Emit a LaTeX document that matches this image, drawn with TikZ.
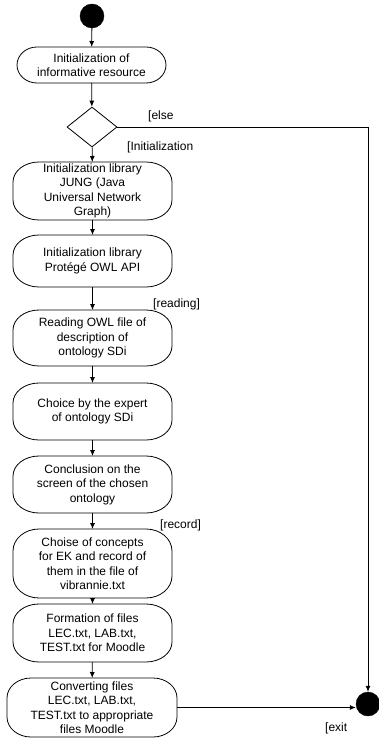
\documentclass[tikz,border=0pt]{standalone}
\usepackage{fontspec}
\setmainfont{Liberation Sans}
\usetikzlibrary{shapes.geometric,arrows.meta}
\tikzset{
  actbox/.style={align=center, minimum width=159pt, inner sep=1pt, outer sep=0pt,
    font=\fontsize{12}{14.5}\selectfont},
  outline/.style={line width=0.8pt},
  dot/.style={circle, fill=black, draw=black, minimum size=24pt, inner sep=0pt},
  choice/.style={draw, diamond, line width=0.8pt, minimum width=50pt, minimum height=40pt, inner sep=0pt},
  guard/.style={anchor=west, inner sep=0pt, font=\fontsize{12}{14.5}\selectfont},
  flow/.style={line width=0.8pt, -{Latex[length=6pt,width=5pt]}}
}
\newcommand\actoutline[3]{%
 \pgfmathsetmacro\cxa{0.4477*#2}\pgfmathsetmacro\cya{0.4477*#3}%
 \draw[outline] ([xshift=#2pt]#1.north west) -- ([xshift=-#2pt]#1.north east)
   .. controls ([xshift=-\cxa pt]#1.north east) and ([yshift=-\cya pt]#1.north east) .. ([yshift=-#3pt]#1.north east)
   -- ([yshift=#3pt]#1.south east)
   .. controls ([yshift=\cya pt]#1.south east) and ([xshift=-\cxa pt]#1.south east) .. ([xshift=-#2pt]#1.south east)
   -- ([xshift=#2pt]#1.south west)
   .. controls ([xshift=\cxa pt]#1.south west) and ([yshift=\cya pt]#1.south west) .. ([yshift=#3pt]#1.south west)
   -- ([yshift=-#3pt]#1.north west)
   .. controls ([yshift=-\cya pt]#1.north west) and ([xshift=\cxa pt]#1.north west) .. ([xshift=#2pt]#1.north west)
   -- cycle;}
\begin{document}
\begin{tikzpicture}[x=1pt,y=-1pt]
\useasboundingbox (0,0) rectangle (379,738);
\node[dot] (start) at (92,16) {};
\node[actbox, minimum width=149pt, minimum height=36pt] (b1) at (91.5,65) {Initialization of\\informative resource};
\node[choice] (dec) at (92,127) {};
\node[actbox, minimum height=58pt] (b2) at (92.5,191) {Initialization library\\JUNG (Java\\Universal Network\\Graph)};
\node[actbox, minimum height=52pt] (b3) at (92.5,261) {Initialization library\\Protégé OWL API};
\node[actbox, minimum height=56pt] (b4) at (92.5,338) {Reading OWL file of\\description of\\ontology SDi};
\node[actbox, minimum height=57pt] (b5) at (92.5,411.5) {Choice by the expert\\of ontology SDi};
\node[actbox, minimum height=57pt] (b6) at (92.5,484.5) {Conclusion on the\\screen of the chosen\\ontology};
\node[actbox, minimum height=69pt] (b7) at (92.5,563.5) {Choise of concepts\\for EK and record of\\them in the file of\\vibrannie.txt};
\node[actbox, minimum height=58pt] (b8) at (92.5,633) {Formation of files\\LEC.txt, LAB.txt,\\TEST.txt for Moodle};
\node[actbox, minimum width=170pt, minimum height=59pt] (b9) at (92,707.5) {Converting files\\LEC.txt, LAB.txt,\\TEST.txt to appropriate\\files Moodle};
\actoutline{b1}{20}{18}
\actoutline{b2}{26}{20}
\actoutline{b3}{26}{20}
\actoutline{b4}{26}{20}
\actoutline{b5}{26}{20}
\actoutline{b6}{26}{20}
\actoutline{b7}{26}{22}
\actoutline{b8}{26}{20}
\actoutline{b9}{24}{20}
\node[dot] (fin) at (368,704) {};
\node[guard] (lelse) at (148,116) {[else};
\node[guard] (linit) at (127,147) {[Initialization};
\node[guard] (lread) at (153,304) {[reading]};
\node[guard] (lrec) at (160,525) {[record]};
\node[guard] (lexit) at (325,728) {[exit};
\draw[flow] (start) -- (b1);
\draw[flow] (b1) -- (dec);
\draw[flow] (dec) -- (b2);
\draw[flow] (b2) -- (b3);
\draw[flow] (b3) -- (b4);
\draw[flow] (b4) -- (b5);
\draw[flow] (b5) -- (b6);
\draw[flow] (b6) -- (b7);
\draw[flow] (b7) -- (b8);
\draw[flow] (b8) -- (b9);
\draw[flow] (b9.east) -- (b9.east -| fin.west);
\draw[flow] (dec.east) -| (fin.north);
\end{tikzpicture}
\end{document}
